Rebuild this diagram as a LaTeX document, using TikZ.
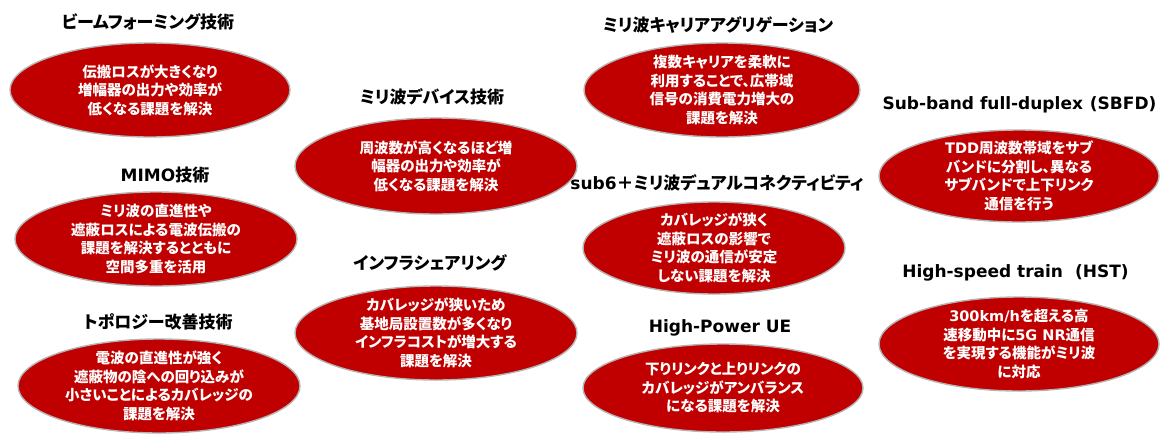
\documentclass[tikz,border=0pt]{standalone}
\usepackage{fontspec}
\setmainfont{Noto Sans CJK JP}[RawFeature=+palt]
\newfontfamily\latfont{DejaVu Sans}
\newcommand{\lat}[1]{{\latfont #1}}
\usetikzlibrary{shapes.geometric}
\definecolor{dred}{HTML}{C00000}
\definecolor{rim}{HTML}{B4B4B4}
\tikzset{
  oval/.style={ellipse, fill=dred, draw=rim, line width=1.4pt, inner sep=0pt},
  bodytext/.style={text=white, align=center, inner sep=0pt,
    font=\bfseries\fontsize{14.5}{18.5}\selectfont},
  titletext/.style={text=black, align=center, inner sep=0pt,
    font=\bfseries\fontsize{17}{20}\selectfont},
}
\begin{document}
\begin{tikzpicture}[x=1pt,y=-1pt]
\useasboundingbox (0,0) rectangle (1166,434);
% column 1
\node[titletext] (t1) at (148,22) {ビームフォーミング技術};
\node[oval, minimum width=280pt, minimum height=94pt] (e1) at (150,90) {};
\node[bodytext] (b1) at (e1.center) {伝搬ロスが大きくなり\\増幅器の出力や効率が\\低くなる課題を解決};
\node[titletext] (t2) at (165,175) {\lat{MIMO}技術};
\node[oval, minimum width=282pt, minimum height=94pt] (e2) at (156,239) {};
\node[bodytext] (b2) at (e2.center) {ミリ波の直進性や\\遮蔽ロスによる電波伝搬の\\課題を解決するとともに\\空間多重を活用};
\node[titletext] (t3) at (158,322) {トポロジー改善技術};
\node[oval, minimum width=282pt, minimum height=94pt] (e3) at (159,386) {};
\node[bodytext] (b3) at (e3.center) {電波の直進性が強く\\遮蔽物の陰への回り込みが\\小さいことによるカバレッジの\\課題を解決};
% column 2
\node[titletext] (t4) at (432,97) {ミリ波デバイス技術};
\node[oval, minimum width=282pt, minimum height=96pt] (e4) at (436,166) {};
\node[bodytext] (b4) at (e4.center) {周波数が高くなるほど増\\幅器の出力や効率が\\低くなる課題を解決};
\node[titletext] (t5) at (430,263) {インフラシェアリング};
\node[oval, minimum width=282pt, minimum height=94pt] (e5) at (436,333) {};
\node[bodytext] (b5) at (e5.center) {カバレッジが狭いため\\基地局設置数が多くなり\\インフラコストが増大する\\課題を解決};
% column 3
\node[titletext] (t6) at (718,25) {ミリ波キャリアアグリゲーション};
\node[oval, minimum width=276pt, minimum height=94pt] (e6) at (722,90) {};
\node[bodytext] (b6) at (e6.center) {複数キャリアを柔軟に\\利用することで、広帯域\\信号の消費電力増大の\\課題を解決};
\node[titletext] (t7) at (717,183) {\lat{sub6}＋ミリ波デュアルコネクティビティ};
\node[oval, minimum width=262pt, minimum height=92pt] (e7) at (714,248) {};
\node[bodytext] (b7) at (e7.center) {カバレッジが狭く\\遮蔽ロスの影響で\\ミリ波の通信が安定\\しない課題を解決};
\node[titletext] (t8) at (720,328) {\lat{High-Power UE}};
\node[oval, minimum width=280pt, minimum height=88pt] (e8) at (723,388) {};
\node[bodytext] (b8) at (e8.center) {下りリンクと上りリンクの\\カバレッジがアンバランス\\になる課題を解決};
% column 4
\node[titletext] (t9) at (1021,105) {\lat{Sub-band full-duplex\hspace{7pt}(SBFD)\hspace{3pt}}};
\node[oval, minimum width=280pt, minimum height=92pt] (e9) at (1019,176) {};
\node[bodytext] (b9) at (e9.center) {\lat{TDD}周波数帯域をサブ\\バンドに分割し、異なる\\サブバンドで上下リンク\\通信を行う};
\node[titletext] (t10) at (1017,273) {\lat{High-speed train\hspace{12pt}(HST)\hspace{3pt}}};
\node[oval, minimum width=280pt, minimum height=94pt] (e10) at (1019,344) {};
\node[bodytext] (b10) at (e10.center) {\lat{300km/h}を超える高\\速移動中に\lat{5G NR}通信\\を実現する機能がミリ波\\に対応};
\end{tikzpicture}
\end{document}
